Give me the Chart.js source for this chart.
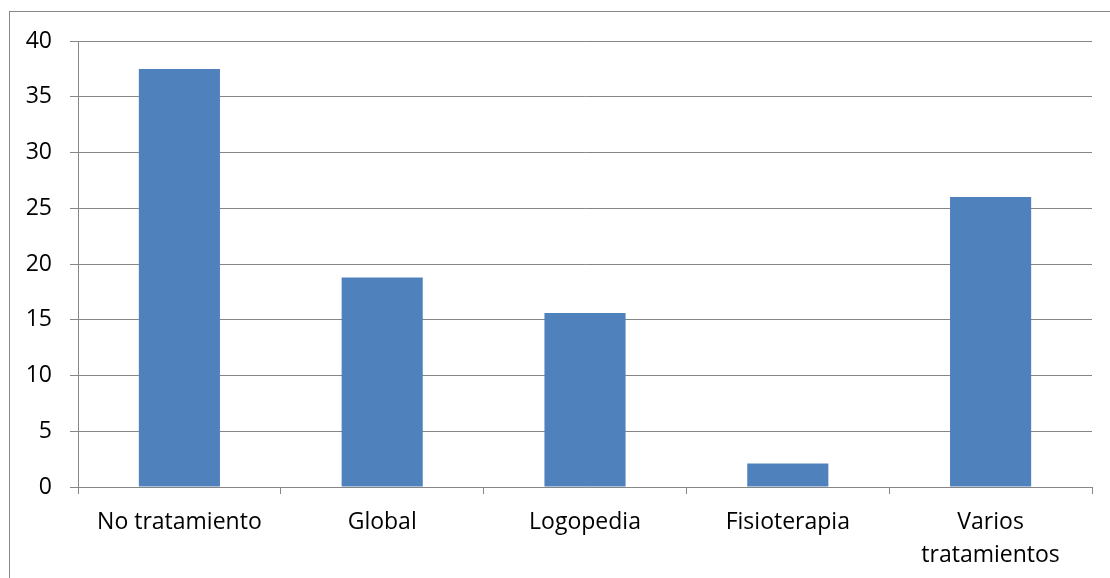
<!DOCTYPE html>
<html>
<head>
<meta charset="utf-8">
<script src="https://cdn.jsdelivr.net/npm/chart.js@4/dist/chart.umd.min.js"></script>
<style>
  html, body { margin: 0; padding: 0; background: #fff; }
  #wrap { width: 1110px; height: 578px; position: relative; }
</style>
</head>
<body>
<div id="wrap"><canvas id="c" width="1110" height="578"></canvas></div>
<script>
// Categories (multi-line labels as arrays) and values
const categories = ['No tratamiento', 'Global', 'Logopedia', 'Fisioterapia', ['Varios', 'tratamientos']];
const values = [37.5, 18.8, 15.6, 2.1, 26.0];
const yMin = 0, yMax = 40, yStep = 5;

const gridGray = '#868686';
const fontFamily = '"Open Sans", Lato, "Liberation Sans", sans-serif';

// Outer frame drawn around the chart area of the canvas
const framePlugin = {
  id: 'frame',
  beforeDraw(chart) {
    const ctx = chart.ctx;
    ctx.save();
    ctx.fillStyle = '#ffffff';
    ctx.fillRect(0, 0, chart.width, chart.height);
    ctx.strokeStyle = gridGray;
    ctx.lineWidth = 1;
    ctx.strokeRect(9.5, 11.5, chart.width + 20, chart.height + 20);
    ctx.restore();
  }
};

new Chart(document.getElementById('c'), {
  type: 'bar',
  data: {
    labels: categories,
    datasets: [{
      data: values,
      backgroundColor: '#4F81BD',
      borderWidth: 0,
      categoryPercentage: 1.0,
      barPercentage: 0.4
    }]
  },
  options: {
    responsive: false,
    animation: false,
    devicePixelRatio: 1,
    layout: { padding: { top: 41, right: 18, left: 0, bottom: 0 } },
    plugins: { legend: { display: false }, tooltip: { enabled: false } },
    scales: {
      x: {
        grid: { display: true, drawOnChartArea: false, drawTicks: true, tickLength: 7, offset: true, color: gridGray, lineWidth: 1 },
        border: { display: true, color: gridGray, width: 1 },
        ticks: { color: '#000', font: { family: fontFamily, size: 23, lineHeight: 1.42 }, padding: 12, maxRotation: 0, autoSkip: false },
        afterFit(scale) { scale.height = 91; }
      },
      y: {
        min: yMin, max: yMax,
        grid: { color: gridGray, lineWidth: 1, drawTicks: true, tickLength: 8 },
        border: { display: true, color: gridGray, width: 1 },
        ticks: { stepSize: yStep, color: '#000', font: { family: fontFamily, size: 23 }, padding: 18 },
        afterFit(scale) { scale.width = 78; }
      }
    }
  },
  plugins: [framePlugin]
});
</script>
</body>
</html>
